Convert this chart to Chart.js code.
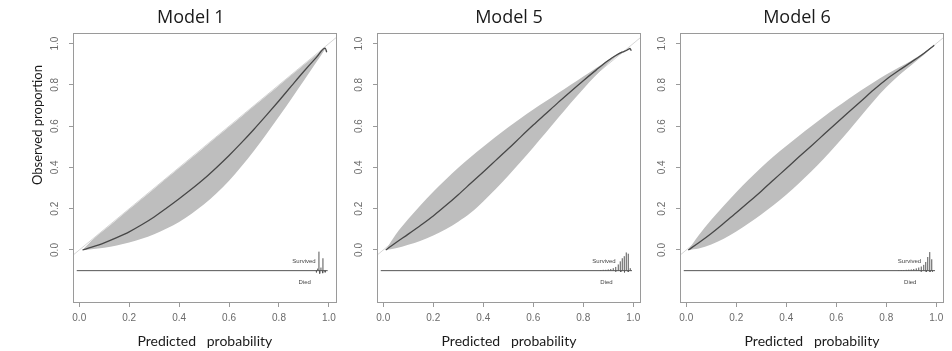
<!DOCTYPE html>
<html>
<head>
<meta charset="utf-8">
<script src="https://cdn.jsdelivr.net/npm/chart.js@4.4.1/dist/chart.umd.min.js"></script>
<style>
  html, body { margin: 0; padding: 0; background: #fff; }
  body { width: 952px; height: 351px; position: relative; overflow: hidden; }
  .panel { position: absolute; top: 0; height: 351px; }
  .panel canvas { display: block; }
</style>
</head>
<body>
<div class="panel" style="left:0;width:341px"><canvas id="m1" width="341" height="351"></canvas></div>
<div class="panel" style="left:341px;width:305px"><canvas id="m5" width="305" height="351"></canvas></div>
<div class="panel" style="left:646px;width:306px"><canvas id="m6" width="306" height="351"></canvas></div>
<script>
// Axis ticks shared by all three calibration panels
const xTicks = [0, 0.2, 0.4, 0.6, 0.8, 1.0];
const yTicks = [0, 0.2, 0.4, 0.6, 0.8, 1.0];
const rulerY = -0.1;            // level of the outcome rug
const rulerX = [-0.01, 0.995];  // extent of the rug baseline

// ---- Model 1 ----
const m1BandX  = [0.013, 0.05, 0.1, 0.15, 0.2, 0.25, 0.3, 0.35, 0.4, 0.45, 0.5, 0.55, 0.6, 0.65, 0.7, 0.75, 0.8, 0.85, 0.9, 0.95, 0.985];
const m1Lower  = [0.0, 0.004, 0.011, 0.022, 0.036, 0.054, 0.076, 0.104, 0.136, 0.176, 0.221, 0.275, 0.336, 0.406, 0.481, 0.562, 0.646, 0.733, 0.821, 0.91, 0.974];
const m1Upper  = [0.0, 0.046, 0.097, 0.147, 0.197, 0.247, 0.297, 0.347, 0.397, 0.447, 0.497, 0.547, 0.597, 0.647, 0.697, 0.747, 0.797, 0.847, 0.897, 0.946, 0.981];
const m1CurveX = [0.013, 0.05, 0.1, 0.15, 0.2, 0.25, 0.3, 0.35, 0.4, 0.45, 0.5, 0.55, 0.6, 0.65, 0.7, 0.75, 0.8, 0.85, 0.9, 0.95, 0.985, 0.991];
const m1CurveY = [0.0, 0.014, 0.035, 0.06, 0.088, 0.122, 0.16, 0.203, 0.248, 0.295, 0.345, 0.4, 0.458, 0.52, 0.585, 0.653, 0.723, 0.795, 0.866, 0.933, 0.978, 0.958];
const m1SurvivedX = [0.955, 0.96, 0.968, 0.976];
const m1SurvivedH = [0.01, 0.092, 0.015, 0.06];
const m1DiedX = [0.95, 0.963, 0.975, 0.985];
const m1DiedH = [0.008, 0.014, 0.012, 0.008];

// ---- Model 5 ----
const m5BandX  = [0.01, 0.05, 0.1, 0.15, 0.2, 0.25, 0.3, 0.35, 0.4, 0.45, 0.5, 0.55, 0.6, 0.65, 0.7, 0.75, 0.8, 0.85, 0.9, 0.93, 0.955, 0.97, 0.98, 0.987];
const m5Lower  = [0.0, 0.008, 0.025, 0.045, 0.07, 0.1, 0.137, 0.18, 0.235, 0.295, 0.36, 0.428, 0.497, 0.568, 0.64, 0.712, 0.78, 0.845, 0.905, 0.935, 0.953, 0.962, 0.97, 0.975];
const m5Upper  = [0.0, 0.075, 0.15, 0.218, 0.282, 0.342, 0.398, 0.45, 0.5, 0.548, 0.595, 0.638, 0.68, 0.72, 0.76, 0.8, 0.84, 0.88, 0.92, 0.945, 0.962, 0.968, 0.974, 0.977];
const m5CurveX = [0.01, 0.05, 0.1, 0.15, 0.2, 0.25, 0.3, 0.35, 0.4, 0.45, 0.5, 0.55, 0.6, 0.65, 0.7, 0.75, 0.8, 0.85, 0.9, 0.93, 0.955, 0.97, 0.98, 0.987, 0.992];
const m5CurveY = [0.0, 0.035, 0.077, 0.12, 0.165, 0.215, 0.268, 0.323, 0.378, 0.434, 0.49, 0.548, 0.605, 0.66, 0.715, 0.768, 0.82, 0.87, 0.918, 0.942, 0.958, 0.965, 0.972, 0.976, 0.965];
const m5SurvivedX = [0.87, 0.88, 0.89, 0.9, 0.91, 0.92, 0.93, 0.94, 0.948, 0.956, 0.964, 0.972, 0.98, 0.988];
const m5SurvivedH = [0.003, 0.004, 0.004, 0.006, 0.008, 0.012, 0.018, 0.03, 0.045, 0.06, 0.07, 0.088, 0.082, 0.012];
const m5DiedX = [0.93, 0.95, 0.965, 0.98];
const m5DiedH = [0.004, 0.006, 0.008, 0.006];

// ---- Model 6 ----
const m6BandX  = [0.008, 0.05, 0.1, 0.15, 0.2, 0.25, 0.3, 0.35, 0.4, 0.45, 0.5, 0.55, 0.6, 0.65, 0.7, 0.75, 0.8, 0.85, 0.9, 0.95, 0.992];
const m6Lower  = [0.0, 0.007, 0.027, 0.055, 0.09, 0.13, 0.172, 0.218, 0.268, 0.322, 0.38, 0.442, 0.508, 0.578, 0.65, 0.722, 0.788, 0.845, 0.895, 0.944, 0.99];
const m6Upper  = [0.0, 0.072, 0.146, 0.214, 0.28, 0.342, 0.4, 0.454, 0.504, 0.552, 0.599, 0.645, 0.69, 0.733, 0.774, 0.813, 0.85, 0.884, 0.917, 0.955, 0.993];
const m6CurveX = [0.008, 0.05, 0.1, 0.15, 0.2, 0.25, 0.3, 0.35, 0.4, 0.45, 0.5, 0.55, 0.6, 0.65, 0.7, 0.75, 0.8, 0.85, 0.9, 0.95, 0.992];
const m6CurveY = [0.0, 0.035, 0.08, 0.13, 0.18, 0.232, 0.285, 0.34, 0.395, 0.45, 0.504, 0.559, 0.614, 0.668, 0.722, 0.776, 0.826, 0.869, 0.91, 0.952, 0.992];
const m6SurvivedX = [0.85, 0.86, 0.87, 0.88, 0.89, 0.9, 0.91, 0.92, 0.93, 0.94, 0.95, 0.958, 0.966, 0.974, 0.982];
const m6SurvivedH = [0.002, 0.003, 0.003, 0.004, 0.005, 0.006, 0.008, 0.011, 0.015, 0.02, 0.028, 0.042, 0.066, 0.09, 0.055];
const m6DiedX = [0.94, 0.96, 0.975, 0.985];
const m6DiedH = [0.004, 0.006, 0.006, 0.004];

const BAND = '#bebebe';
const CURVE = '#474747';
const FRAME = '#9a9a9a';

const points = (xs, ys) => xs.map((x, i) => ({ x, y: ys[i] }));
function spikes(xs, hs, dir) {
  const out = [];
  xs.forEach((x, i) => {
    out.push({ x, y: rulerY });
    out.push({ x, y: rulerY + dir * hs[i] });
    out.push({ x, y: null });
  });
  return out;
}

// box round the plotting region
const frame = {
  id: 'frame',
  afterDatasetsDraw(chart) {
    const { ctx, chartArea: a } = chart;
    ctx.save();
    ctx.strokeStyle = FRAME;
    ctx.lineWidth = 1;
    const l = Math.round(a.left) + 0.5, t = Math.round(a.top) + 0.5;
    const r = Math.round(a.right) - 0.5, b = Math.round(a.bottom) - 0.5;
    ctx.strokeRect(l, t, r - l, b - t);
    ctx.restore();
  }
};

// "Survived" / "Died" captions of the rug, placed in data units
const rugLabels = {
  id: 'rugLabels',
  afterDatasetsDraw(chart, args, o) {
    const { ctx, scales: { x, y } } = chart;
    ctx.save();
    ctx.font = o.font;
    ctx.fillStyle = o.color;
    ctx.textAlign = 'center';
    ctx.textBaseline = 'middle';
    o.items.forEach(it => ctx.fillText(it.text, x.getPixelForValue(it.x), y.getPixelForValue(it.y)));
    ctx.restore();
  }
};

// panel heading and the shared y-axis caption
const panelText = {
  id: 'panelText',
  afterDraw(chart, args, o) {
    const { ctx, chartArea: a } = chart;
    ctx.save();
    ctx.fillStyle = o.color;
    ctx.textAlign = 'center';
    ctx.textBaseline = 'middle';
    ctx.font = o.titleFont;
    ctx.fillText(o.title, (a.left + a.right) / 2 + o.titleShift, o.titleY);
    if (o.yTitle) {
      ctx.translate(o.yTitleX, o.yTitleY);
      ctx.rotate(-Math.PI / 2);
      ctx.font = o.axisFont;
      ctx.fillText(o.yTitle, 0, 0);
    }
    ctx.restore();
  }
};

function panel(id, cfg) {
  const smooth = { cubicInterpolationMode: 'monotone' };
  const datasets = [
    { data: points(cfg.curveX, cfg.curveY), borderColor: CURVE, borderWidth: 1.3, ...smooth },
    { data: points(rulerX, [rulerY, rulerY]), borderColor: '#555', borderWidth: 1 },
    { data: spikes(cfg.survivedX, cfg.survivedH, 1), borderColor: '#555', borderWidth: 1, spanGaps: false },
    { data: spikes(cfg.diedX, cfg.diedH, -1), borderColor: '#555', borderWidth: 1, spanGaps: false },
    { data: points(cfg.bandX, cfg.upper), borderWidth: 0, borderColor: BAND, backgroundColor: BAND, fill: '+1', ...smooth },
    { data: points(cfg.bandX, cfg.lower), borderWidth: 0, borderColor: BAND, fill: false, ...smooth },
    { data: points([-0.1, 1.1], [-0.1, 1.1]), borderColor: '#d6d6d6', borderWidth: 1 }
  ];
  datasets.forEach(d => { d.pointRadius = 0; if (d.fill === undefined) d.fill = false; });

  const tickFont = { family: 'Liberation Sans', size: 10 };
  new Chart(document.getElementById(id), {
    type: 'line',
    data: { datasets },
    options: {
      responsive: false,
      animation: false,
      events: [],
      layout: { padding: cfg.padding },
      plugins: {
        legend: { display: false },
        tooltip: { enabled: false },
        rugLabels: {
          font: '6px "Liberation Sans"', color: '#444',
          items: [
            { text: 'Survived', x: cfg.survivedLabelX, y: -0.057 },
            { text: 'Died', x: cfg.diedLabelX, y: -0.155 }
          ]
        },
        panelText: {
          color: '#1a1a1a',
          title: cfg.title, titleShift: cfg.titleShift, titleY: 18,
          titleFont: '18px "Open Sans"',
          axisFont: '13px Lato',
          yTitle: cfg.yTitle, yTitleX: cfg.yTitleX, yTitleY: 125
        }
      },
      scales: {
        x: {
          type: 'linear', min: -0.025, max: 1.031,
          afterBuildTicks: s => { s.ticks = xTicks.map(v => ({ value: v })); },
          afterFit: s => { s.height = 48; },
          border: { display: false },
          grid: { display: true, drawOnChartArea: false, drawTicks: true, tickLength: 4, color: FRAME },
          ticks: { color: '#6a6a6a', font: tickFont, padding: 5, maxRotation: 0, callback: v => v.toFixed(1) },
          title: { display: true, text: 'Predicted   probability', color: '#1a1a1a', font: { family: 'Lato', size: 14 }, padding: { top: 0, bottom: 1 } }
        },
        y: {
          type: 'linear', min: -0.2567, max: 1.051,
          afterBuildTicks: s => { s.ticks = yTicks.map(v => ({ value: v })); },
          afterFit: s => { s.width = cfg.yWidth; },
          border: { display: false },
          grid: { display: true, drawOnChartArea: false, drawTicks: true, tickLength: 4, color: FRAME },
          ticks: { color: '#6a6a6a', font: tickFont, padding: 6.5, minRotation: 90, maxRotation: 90, crossAlign: 'center', callback: v => v.toFixed(1) }
        }
      }
    },
    plugins: [frame, rugLabels, panelText]
  });
}

panel('m1', {
  title: 'Model 1', titleShift: -14, yTitle: 'Observed proportion', yTitleX: 38,
  padding: { left: 23, right: 4, top: 33, bottom: 0 }, yWidth: 50,
  bandX: m1BandX, lower: m1Lower, upper: m1Upper, curveX: m1CurveX, curveY: m1CurveY,
  survivedX: m1SurvivedX, survivedH: m1SurvivedH, diedX: m1DiedX, diedH: m1DiedH,
  survivedLabelX: 0.9, diedLabelX: 0.903
});
panel('m5', {
  title: 'Model 5', titleShift: 0, yTitle: null,
  padding: { left: 6, right: 5, top: 33, bottom: 0 }, yWidth: 30,
  bandX: m5BandX, lower: m5Lower, upper: m5Upper, curveX: m5CurveX, curveY: m5CurveY,
  survivedX: m5SurvivedX, survivedH: m5SurvivedH, diedX: m5DiedX, diedH: m5DiedH,
  survivedLabelX: 0.883, diedLabelX: 0.893
});
panel('m6', {
  title: 'Model 6', titleShift: -15, yTitle: null,
  padding: { left: 4, right: 8, top: 33, bottom: 0 }, yWidth: 30,
  bandX: m6BandX, lower: m6Lower, upper: m6Upper, curveX: m6CurveX, curveY: m6CurveY,
  survivedX: m6SurvivedX, survivedH: m6SurvivedH, diedX: m6DiedX, diedH: m6DiedH,
  survivedLabelX: 0.893, diedLabelX: 0.896
});
</script>
</body>
</html>
